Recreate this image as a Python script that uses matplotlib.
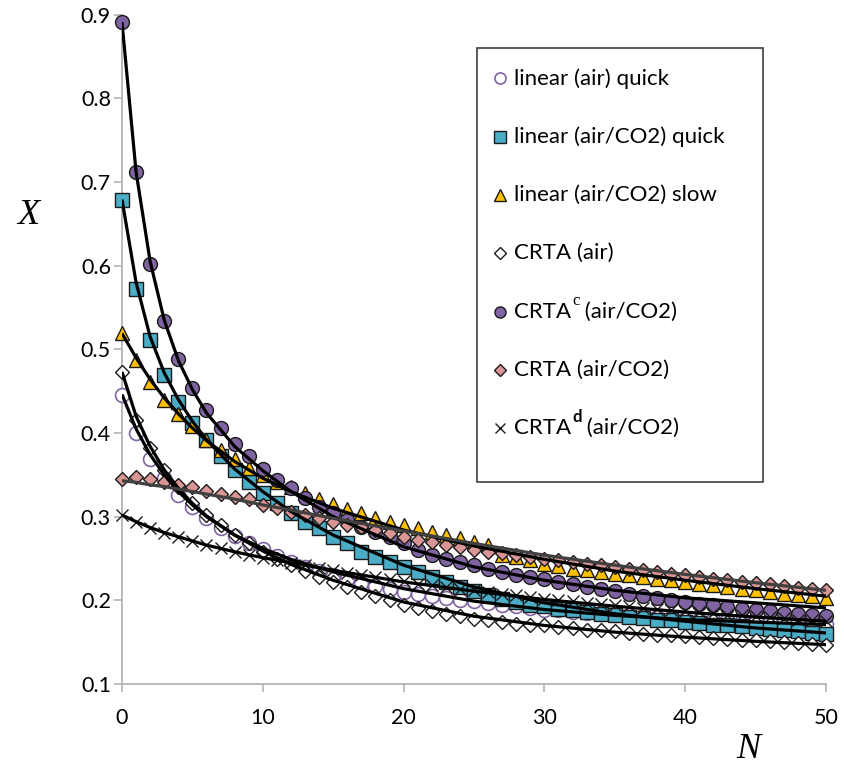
import numpy as np
import matplotlib.pyplot as plt
from matplotlib.lines import Line2D
from matplotlib.patches import Rectangle

plt.rcParams['font.family'] = ['Lato', 'DejaVu Sans']

N = np.arange(51)

# measured conversion X for each cycle N
lin_air_quick = [0.446, 0.400, 0.369, 0.346, 0.326, 0.312, 0.298, 0.287, 0.277, 0.268,
                 0.261, 0.253, 0.246, 0.240, 0.235, 0.230, 0.225, 0.221, 0.217, 0.213,
                 0.210, 0.207, 0.205, 0.203, 0.201, 0.199, 0.197, 0.195, 0.193, 0.191,
                 0.189, 0.188, 0.186, 0.185, 0.184, 0.183, 0.182, 0.181, 0.180, 0.179,
                 0.178, 0.177, 0.177, 0.176, 0.175, 0.175, 0.174, 0.173, 0.173, 0.172,
                 0.172]
lin_co2_quick = [0.679, 0.572, 0.511, 0.469, 0.437, 0.412, 0.392, 0.372, 0.356, 0.341,
                 0.328, 0.316, 0.304, 0.294, 0.286, 0.276, 0.268, 0.258, 0.252, 0.246,
                 0.240, 0.234, 0.228, 0.222, 0.216, 0.211, 0.206, 0.202, 0.198, 0.195,
                 0.193, 0.190, 0.188, 0.186, 0.184, 0.182, 0.180, 0.179, 0.177, 0.176,
                 0.174, 0.173, 0.171, 0.170, 0.169, 0.167, 0.166, 0.164, 0.163, 0.161,
                 0.160]
lin_co2_slow = [0.519, 0.487, 0.461, 0.440, 0.423, 0.408, 0.392, 0.380, 0.369, 0.358,
                0.350, 0.342, 0.335, 0.328, 0.321, 0.315, 0.309, 0.304, 0.299, 0.294,
                0.290, 0.286, 0.282, 0.278, 0.274, 0.270, 0.266, 0.254, 0.252, 0.248,
                0.244, 0.241, 0.238, 0.236, 0.234, 0.232, 0.230, 0.228, 0.226, 0.224,
                0.222, 0.220, 0.218, 0.216, 0.214, 0.212, 0.210, 0.208, 0.206, 0.205,
                0.203]
crta_air = [0.473, 0.416, 0.382, 0.356, 0.336, 0.316, 0.302, 0.290, 0.278, 0.268,
            0.258, 0.250, 0.242, 0.235, 0.228, 0.222, 0.216, 0.210, 0.205, 0.200,
            0.195, 0.191, 0.187, 0.184, 0.181, 0.178, 0.176, 0.174, 0.172, 0.171,
            0.170, 0.168, 0.167, 0.165, 0.164, 0.163, 0.161, 0.160, 0.159, 0.158,
            0.157, 0.156, 0.155, 0.154, 0.153, 0.152, 0.151, 0.150, 0.149, 0.148,
            0.147]
crta_c_co2 = [0.891, 0.712, 0.602, 0.534, 0.488, 0.454, 0.427, 0.406, 0.387, 0.372,
              0.357, 0.344, 0.334, 0.322, 0.312, 0.304, 0.296, 0.288, 0.282, 0.276,
              0.268, 0.260, 0.254, 0.250, 0.246, 0.242, 0.238, 0.234, 0.230, 0.228,
              0.225, 0.222, 0.219, 0.216, 0.213, 0.211, 0.208, 0.205, 0.203, 0.200,
              0.198, 0.196, 0.194, 0.192, 0.190, 0.189, 0.187, 0.185, 0.184, 0.182,
              0.181]
crta_co2 = [0.345, 0.347, 0.345, 0.342, 0.338, 0.335, 0.331, 0.327, 0.324, 0.321,
            0.314, 0.310, 0.306, 0.302, 0.298, 0.294, 0.290, 0.288, 0.284, 0.280,
            0.276, 0.272, 0.270, 0.266, 0.264, 0.260, 0.258, 0.256, 0.254, 0.252,
            0.250, 0.248, 0.246, 0.244, 0.242, 0.240, 0.238, 0.236, 0.234, 0.232,
            0.230, 0.228, 0.226, 0.224, 0.222, 0.221, 0.219, 0.217, 0.215, 0.214,
            0.212]
crta_d_co2 = [0.302, 0.294, 0.287, 0.281, 0.276, 0.271, 0.266, 0.262, 0.258, 0.254,
              0.251, 0.248, 0.245, 0.242, 0.239, 0.236, 0.233, 0.230, 0.228, 0.225,
              0.223, 0.220, 0.218, 0.216, 0.214, 0.212, 0.210, 0.208, 0.206, 0.204,
              0.202, 0.200, 0.199, 0.197, 0.196, 0.194, 0.193, 0.191, 0.190, 0.189,
              0.187, 0.186, 0.185, 0.183, 0.182, 0.181, 0.180, 0.179, 0.177, 0.176,
              0.175]

# model curves, evaluated at these cycles
N_fit = [0, 1, 2, 3, 4, 5, 6, 8, 10, 12, 15, 20, 25, 30, 35, 40, 45, 50]
fit_air_quick = [0.446, 0.405, 0.374, 0.350, 0.330, 0.314, 0.300, 0.278, 0.262, 0.249,
                 0.234, 0.214, 0.199, 0.189, 0.182, 0.177, 0.174, 0.171]
fit_co2_quick = [0.679, 0.580, 0.515, 0.472, 0.440, 0.414, 0.392, 0.357, 0.330, 0.306,
                 0.278, 0.242, 0.216, 0.197, 0.184, 0.175, 0.167, 0.161]
fit_co2_slow = [0.519, 0.490, 0.464, 0.442, 0.423, 0.406, 0.391, 0.366, 0.346, 0.330,
                0.310, 0.284, 0.265, 0.249, 0.235, 0.224, 0.214, 0.205]
fit_crta_air = [0.473, 0.420, 0.384, 0.356, 0.334, 0.316, 0.301, 0.278, 0.259, 0.243,
                0.224, 0.198, 0.181, 0.170, 0.162, 0.156, 0.151, 0.147]
fit_crta_c = [0.891, 0.712, 0.605, 0.535, 0.487, 0.452, 0.424, 0.384, 0.355, 0.330,
              0.300, 0.264, 0.240, 0.224, 0.212, 0.203, 0.197, 0.191]
fit_crta_co2 = [0.343, 0.341, 0.338, 0.336, 0.333, 0.330, 0.327, 0.321, 0.314, 0.308,
                0.298, 0.283, 0.268, 0.254, 0.242, 0.231, 0.221, 0.212]
fit_crta_d = [0.302, 0.294, 0.287, 0.281, 0.276, 0.271, 0.266, 0.258, 0.251, 0.245,
              0.236, 0.222, 0.211, 0.201, 0.193, 0.186, 0.180, 0.175]

# (text, superscript, superscript font, rest of label)
labels = [('linear (air) quick', '', None, ''),
          ('linear (air/CO2) quick', '', None, ''),
          ('linear (air/CO2) slow', '', None, ''),
          ('CRTA (air)', '', None, ''),
          ('CRTA', 'c', dict(family='Liberation Serif'), ' (air/CO2)'),
          ('CRTA (air/CO2)', '', None, ''),
          ('CRTA', 'd', dict(family='Lato', weight='bold'), ' (air/CO2)')]

edge = '#1a1a1a'
styles = [
    dict(marker='o', ms=10, mfc='white', mec='#8064a2', mew=1.2),
    dict(marker='s', ms=10, mfc='#4bacc6', mec=edge, mew=1.0),
    dict(marker='^', ms=10.5, mfc='#ffc000', mec=edge, mew=1.0),
    dict(marker='D', ms=7.3, mfc='white', mec=edge, mew=1.0),
    dict(marker='o', ms=10, mfc='#8064a2', mec=edge, mew=1.0),
    dict(marker='D', ms=7.3, mfc='#d99694', mec=edge, mew=1.0),
    dict(marker='x', ms=9, mfc='none', mec=edge, mew=1.0),
]
series = [lin_air_quick, lin_co2_quick, lin_co2_slow, crta_air, crta_c_co2, crta_co2, crta_d_co2]
fits = [fit_air_quick, fit_co2_quick, fit_co2_slow, fit_crta_air, fit_crta_c, fit_crta_co2, fit_crta_d]
fit_colors = ['black', 'black', 'black', 'black', 'black', '#404040', 'black']

W, H = 845, 773
fig = plt.figure(figsize=(W / 100, H / 100), dpi=100)
ax = fig.add_axes([122 / W, 1 - 684 / H, (826 - 122) / W, (684 - 14.7) / H])

for i, (y, st) in enumerate(zip(series, styles)):
    ax.plot(N, y, linestyle='none', clip_on=False, zorder=3 + i * 0.1, **st)
for y, c in zip(fits, fit_colors):
    ax.plot(N_fit, y, color=c, lw=2.3, zorder=5, solid_capstyle='butt')

ax.set_xlim(0, 50)
ax.set_ylim(0.1, 0.9)
ax.set_xticks(np.arange(0, 51, 10))
ax.set_yticks(np.arange(0.1, 0.91, 0.1))
ax.set_yticklabels(['%.1f' % v for v in np.arange(0.1, 0.91, 0.1)])
for s in ['top', 'right']:
    ax.spines[s].set_visible(False)
for s in ['left', 'bottom']:
    ax.spines[s].set_color('#b3b3b3')
    ax.spines[s].set_linewidth(1.3)
ax.tick_params(axis='both', direction='out', length=6, width=1.2, color='#b3b3b3',
               labelsize=15.5, labelcolor='black')
ax.tick_params(axis='y', pad=2)
ax.tick_params(axis='x', pad=11)

fig.text(28 / W, 1 - 215 / H, 'X', fontsize=26, style='italic', family='Liberation Serif',
         ha='center', va='center')
fig.text(748 / W, 1 - 750 / H, 'N', fontsize=26, style='italic', family='Liberation Serif',
         ha='center', va='center')

# legend box drawn by hand
def fx(px):
    return px / W

def fy(py):
    return 1 - py / H

fig.add_artist(Rectangle((fx(477), fy(482)), fx(763) - fx(477), fy(48) - fy(482),
                         transform=fig.transFigure, fill=True, fc='white',
                         ec='#404040', lw=1.2, zorder=10))
renderer = fig.canvas.get_renderer()
for k, ((lab, sup, supfont, rest), st) in enumerate(zip(labels, styles)):
    yc = 78.3 + k * 58.3
    lst = dict(st)
    lst['ms'] = st['ms'] * 0.8
    fig.add_artist(Line2D([fx(500)], [fy(yc)], transform=fig.transFigure,
                          linestyle='none', zorder=11, **lst))
    t = fig.text(fx(514), fy(yc), lab, fontsize=16, va='center', ha='left', zorder=11)
    if sup:
        x1 = t.get_window_extent(renderer).x1
        s = fig.text(x1 / W + 0.001, fy(yc - 11), sup, fontsize=12, va='center',
                     ha='left', zorder=11, **supfont)
        x2 = s.get_window_extent(renderer).x1
        fig.text(x2 / W, fy(yc), rest, fontsize=16, va='center', ha='left', zorder=11)

fig.savefig('out.png', dpi=100)
